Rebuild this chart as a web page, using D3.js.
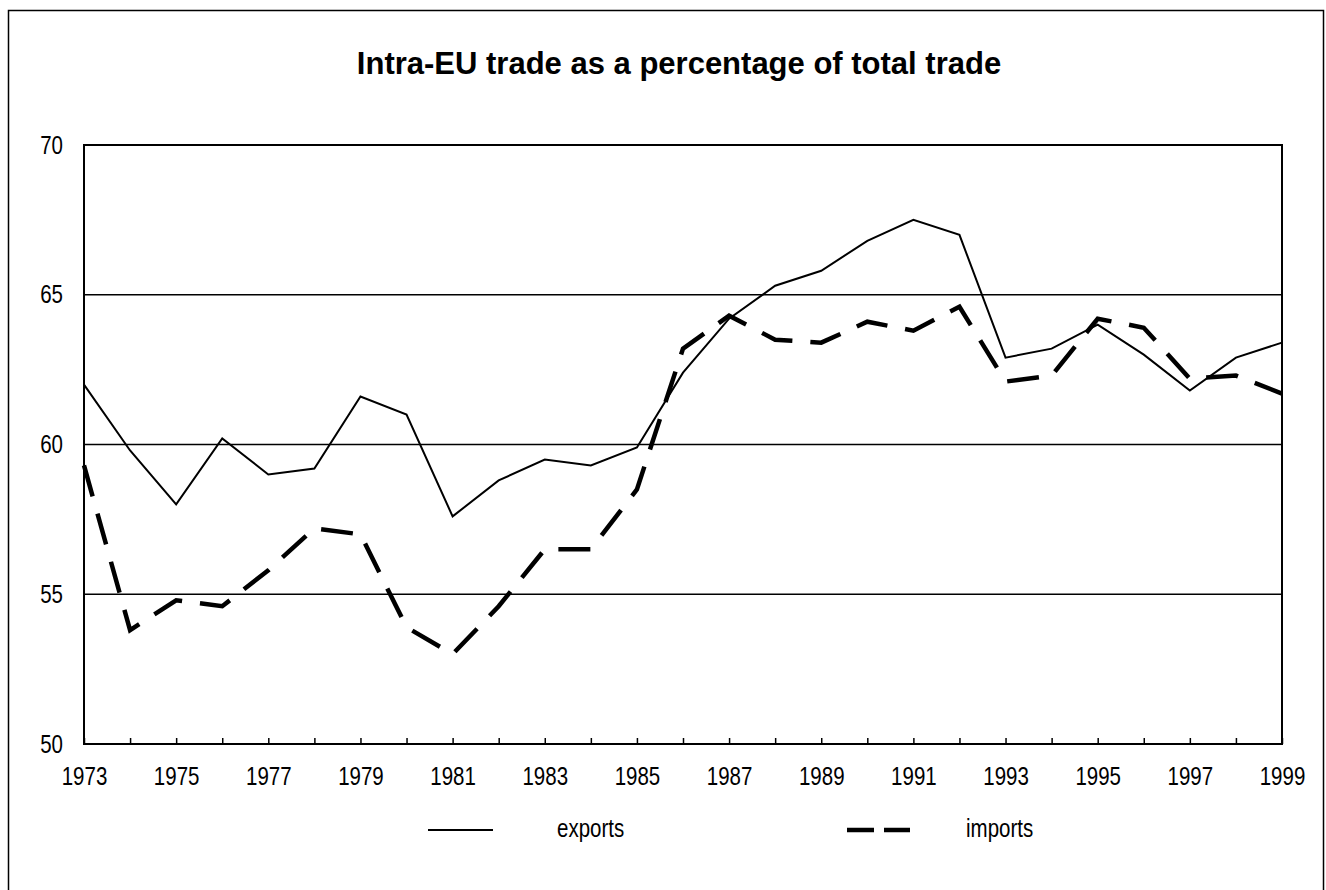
<!DOCTYPE html>
<html lang="en">
<head>
    <meta charset="UTF-8">
    <title>Intra-EU trade</title>
    <style>
        body { margin: 0; background: #fff; }
        text { fill: #000; }
    </style>
</head>
<body>
    <script src="https://d3js.org/d3.v7.min.js"></script>
    <script>
        // Data
        const years = [1973, 1974, 1975, 1976, 1977, 1978, 1979, 1980, 1981, 1982, 1983, 1984, 1985,
            1986, 1987, 1988, 1989, 1990, 1991, 1992, 1993, 1994, 1995, 1996, 1997, 1998, 1999];
        const exportsPct = [62.0, 59.8, 58.0, 60.2, 59.0, 59.2, 61.6, 61.0, 57.6, 58.8, 59.5, 59.3, 59.9,
            62.4, 64.2, 65.3, 65.8, 66.8, 67.5, 67.0, 62.9, 63.2, 64.0, 63.0, 61.8, 62.9, 63.4];
        const importsPct = [59.3, 53.8, 54.8, 54.6, 55.8, 57.2, 57.0, 53.9, 53.0, 54.6, 56.5, 56.5, 58.5,
            63.2, 64.3, 63.5, 63.4, 64.1, 63.8, 64.6, 62.1, 62.3, 64.2, 63.9, 62.2, 62.3, 61.7];
        const yTicks = [50, 55, 60, 65, 70];
        const xLabels = [1973, 1975, 1977, 1979, 1981, 1983, 1985, 1987, 1989, 1991, 1993, 1995, 1997, 1999];
        const title = "Intra-EU trade as a percentage of total trade";

        const width = 1326, height = 890,
            plot = {left: 84, right: 1282, top: 145, bottom: 744},
            labelSize = 25;

        const svg = d3.select("body").append("svg")
            .attr("width", width)
            .attr("height", height);

        // the labels are set in a narrow face; squeeze regular Liberation Sans if Narrow is missing
        const probe = svg.append("text")
            .style("font-family", "'Liberation Sans Narrow'").style("font-size", "100px")
            .text("1973");
        const narrowOk = probe.node().getComputedTextLength() < 200;
        probe.remove();
        const labelFont = narrowOk ? "'Liberation Sans Narrow', sans-serif" : "'Liberation Sans', Arial, sans-serif";
        const squeeze = narrowOk ? "" : "scale(0.82,1)";

        // outer frame (bottom edge runs off the page)
        svg.append("rect")
            .attr("x", 8.5).attr("y", 10.5)
            .attr("width", 1315).attr("height", 900)
            .attr("fill", "none").attr("stroke", "#000").attr("stroke-width", 1.5);

        svg.append("text")
            .attr("x", 679).attr("y", 74)
            .attr("text-anchor", "middle")
            .style("font-family", "'Liberation Sans', Arial, sans-serif")
            .style("font-size", "31px").style("font-weight", "bold")
            .text(title);

        const x = d3.scaleLinear().domain([1973, 1999]).range([plot.left, plot.right]);
        const y = d3.scaleLinear().domain([50, 70]).range([plot.bottom, plot.top]);

        // gridlines
        svg.append("g")
            .selectAll("line")
            .data(yTicks.filter(d => d > 50 && d < 70))
            .enter().append("line")
            .attr("x1", plot.left).attr("x2", plot.right)
            .attr("y1", d => y(d)).attr("y2", d => y(d))
            .attr("stroke", "#000").attr("stroke-width", 1.5);

        // plot frame
        svg.append("rect")
            .attr("x", plot.left).attr("y", plot.top)
            .attr("width", plot.right - plot.left).attr("height", plot.bottom - plot.top)
            .attr("fill", "none").attr("stroke", "#000").attr("stroke-width", 2);

        // y axis labels
        const yAxis = d3.axisLeft(y).tickValues(yTicks).tickSize(0).tickPadding(0);
        svg.append("g")
            .attr("transform", "translate(" + (plot.left - 21) + ",0)")
            .call(yAxis)
            .call(g => g.select(".domain").remove())
            .selectAll("text")
            .attr("x", 0)
            .attr("transform", squeeze)
            .style("font-size", labelSize + "px").style("font-family", labelFont);

        // x axis: inward ticks every year, labels every other year
        const xAxis = d3.axisBottom(x).tickValues(years).tickSize(-6).tickPadding(23)
            .tickFormat(d => xLabels.includes(d) ? d : "");
        svg.append("g")
            .attr("transform", "translate(0," + plot.bottom + ")")
            .call(xAxis)
            .call(g => g.select(".domain").remove())
            .call(g => g.selectAll(".tick line").attr("stroke-width", 1.5))
            .selectAll("text")
            .attr("transform", squeeze)
            .style("font-size", labelSize + "px").style("font-family", labelFont);

        const line = d3.line()
            .x((d, i) => x(years[i]))
            .y(d => y(d));

        svg.append("path")
            .datum(importsPct)
            .attr("d", line)
            .attr("fill", "none").attr("stroke", "#000")
            .attr("stroke-width", 4.5)
            .attr("stroke-dasharray", "32,18");

        svg.append("path")
            .datum(exportsPct)
            .attr("d", line)
            .attr("fill", "none").attr("stroke", "#000")
            .attr("stroke-width", 2);

        // legend
        const legend = svg.append("g").attr("transform", "translate(0,830)");
        legend.append("line")
            .attr("x1", 428).attr("x2", 493)
            .attr("stroke", "#000").attr("stroke-width", 2);
        legend.append("g").attr("transform", "translate(557,7)")
            .append("text")
            .attr("transform", squeeze)
            .style("font-size", labelSize + "px").style("font-family", labelFont)
            .text("exports");
        legend.append("line")
            .attr("x1", 847).attr("x2", 910)
            .attr("stroke", "#000").attr("stroke-width", 4.5)
            .attr("stroke-dasharray", "27,10");
        legend.append("g").attr("transform", "translate(966,7)")
            .append("text")
            .attr("transform", squeeze)
            .style("font-size", labelSize + "px").style("font-family", labelFont)
            .text("imports");
    </script>
</body>
</html>
